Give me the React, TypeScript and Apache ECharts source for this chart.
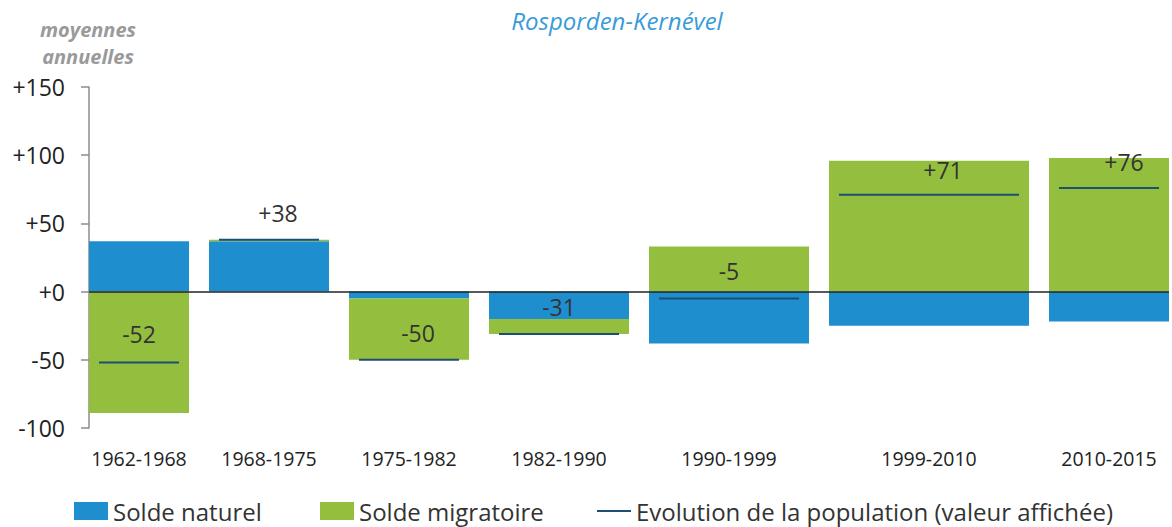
import React, { useEffect, useRef } from "react";
import * as echarts from "echarts";

const periods = ["1962-1968", "1968-1975", "1975-1982", "1982-1990", "1990-1999", "1999-2010", "2010-2015"];
const widthUnits = [5, 6, 6, 7, 8, 10, 6];
const soldeNaturel = [37, 37, -5, -20, -38, -25, -22];
const soldeMigratoire = [-89, 1, -45, -11, 33, 96, 98];
const evolution = [-52, 38, -50, -31, -5, 71, 76];
const yTicks = [-100, -50, 0, 50, 100, 150];

// layout tweaks for value labels (pixels)
const labelShiftX = [0, 9, 9, 0, 0, 14, 15];
const labelShiftY = [-29, -27, -27, -27, -27, -25, -26];

const FONT = "'Open Sans', 'Noto Sans', sans-serif";
const BLUE = "#1f8ecf";
const GREEN = "#94bf3e";
const NAVY = "#1d4e74";

function fmt(v: number) {
  return v >= 0 ? "+" + v : String(v);
}

export default function App() {
  const ref = useRef<HTMLDivElement>(null);
  useEffect(() => {
    if (!ref.current) return;
    const chart = echarts.init(ref.current, null, { renderer: "svg" });

    const starts: number[] = [];
    let acc = 0;
    widthUnits.forEach((w) => {
      starts.push(acc);
      acc += w + 1;
    });
    const totalUnits = acc - 1;
    const ends = starts.map((s, i) => s + widthUnits[i]);
    const centers = starts.map((s, i) => s + widthUnits[i] / 2);

    const natData = periods.map((_, i) => [starts[i], ends[i], 0, soldeNaturel[i]]);
    const migData = periods.map((_, i) => {
      const n = soldeNaturel[i];
      const m = soldeMigratoire[i];
      const base = Math.sign(n) === Math.sign(m) ? n : 0;
      return [starts[i], ends[i], base, base + m];
    });
    const evoData = periods.map((_, i) => [starts[i], ends[i], evolution[i]]);

    const rectRender = (color: string) => (params: any, api: any) => {
      const s = api.value(0), e = api.value(1), b = api.value(2), t = api.value(3);
      const p0 = api.coord([s, Math.max(b, t)]);
      const p1 = api.coord([e, Math.min(b, t)]);
      return {
        type: "rect",
        shape: { x: p0[0], y: p0[1], width: p1[0] - p0[0], height: p1[1] - p0[1] },
        style: { fill: color },
      };
    };

    const evoRender = (params: any, api: any) => {
      const i = params.dataIndex;
      const s = api.value(0), e = api.value(1), v = api.value(2);
      const a = api.coord([s + 0.5, v]);
      const b = api.coord([e - 0.5, v]);
      return {
        type: "group",
        children: [
          {
            type: "line",
            shape: { x1: a[0], y1: a[1], x2: b[0], y2: b[1] },
            style: { stroke: NAVY, lineWidth: 2 },
          },
          {
            type: "text",
            x: (a[0] + b[0]) / 2 + labelShiftX[i],
            y: a[1] + labelShiftY[i],
            style: {
              text: fmt(v),
              fill: "#333",
              font: `23px ${FONT}`,
              textAlign: "center",
              textVerticalAlign: "middle",
            },
          },
        ],
      };
    };

    const legendText = { fontSize: 24, lineHeight: 24, color: "#333", fontFamily: FONT };

    chart.setOption({
      animation: false,
      textStyle: { fontFamily: FONT },
      title: [
        {
          text: "Rosporden-Kernével",
          left: 612,
          textAlign: "center",
          top: 3,
          textStyle: { color: "#3a9bd8", fontSize: 24, fontStyle: "italic", fontWeight: "normal", fontFamily: FONT },
        },
        {
          text: "moyennes\nannuelles",
          left: 83,
          textAlign: "center",
          top: 11,
          textStyle: {
            color: "#9a9a9a",
            fontSize: 20,
            lineHeight: 27,
            fontStyle: "italic",
            fontWeight: "bold",
            fontFamily: FONT,
          },
        },
      ],
      legend: [
        {
          data: ["Solde naturel"],
          left: 69,
          top: 494,
          itemWidth: 34,
          itemHeight: 18,
          icon: "rect",
          selectedMode: false,
          textStyle: legendText,
        },
        {
          data: ["Solde migratoire"],
          left: 315,
          top: 494,
          itemWidth: 34,
          itemHeight: 18,
          icon: "rect",
          selectedMode: false,
          textStyle: legendText,
        },
        {
          data: ["Evolution de la population (valeur affichée)"],
          left: 592,
          top: 494,
          itemWidth: 34,
          itemHeight: 2,
          icon: "rect",
          selectedMode: false,
          textStyle: legendText,
        },
      ],
      grid: { left: 89, right: 3, top: 87, bottom: 99 },
      xAxis: {
        type: "value",
        min: 0,
        max: totalUnits,
        axisLine: { show: false },
        axisTick: { show: false },
        splitLine: { show: false },
        axisLabel: {
          customValues: centers,
          formatter: (v: number) => {
            const idx = centers.findIndex((c) => Math.abs(c - v) < 1e-6);
            return idx >= 0 ? periods[idx] : "";
          },
          margin: 20,
          fontSize: 19.5,
          color: "#222",
          fontFamily: FONT,
        },
      },
      yAxis: {
        type: "value",
        min: yTicks[0],
        max: yTicks[yTicks.length - 1],
        interval: 50,
        axisLine: { show: true, lineStyle: { color: "#8c8c8c", width: 1.5 } },
        axisTick: { show: true, inside: false, length: 8, lineStyle: { color: "#8c8c8c", width: 1.5 } },
        splitLine: { show: false },
        axisLabel: {
          formatter: (v: number) => fmt(v),
          fontSize: 23,
          color: "#222",
          margin: 24,
          fontFamily: FONT,
        },
      },
      series: [
        {
          name: "Solde naturel",
          type: "custom",
          z: 2,
          itemStyle: { color: BLUE },
          renderItem: rectRender(BLUE),
          encode: { x: [0, 1], y: [2, 3] },
          data: natData,
        },
        {
          name: "Solde migratoire",
          type: "custom",
          z: 2,
          itemStyle: { color: GREEN },
          renderItem: rectRender(GREEN),
          encode: { x: [0, 1], y: [2, 3] },
          data: migData,
        },
        {
          name: "Evolution de la population (valeur affichée)",
          type: "custom",
          z: 4,
          itemStyle: { color: NAVY },
          renderItem: evoRender,
          encode: { x: [0, 1], y: 2 },
          data: evoData,
          markLine: {
            silent: true,
            symbol: ["none", "none"],
            label: { show: false },
            lineStyle: { color: "#222", width: 1.5, type: "solid" },
            data: [{ yAxis: 0 }],
          },
        },
      ],
    });
    return () => chart.dispose();
  }, []);
  return <div ref={ref} style={{ position: "absolute", left: 0, top: 0, width: 1172, height: 527 }} />;
}
